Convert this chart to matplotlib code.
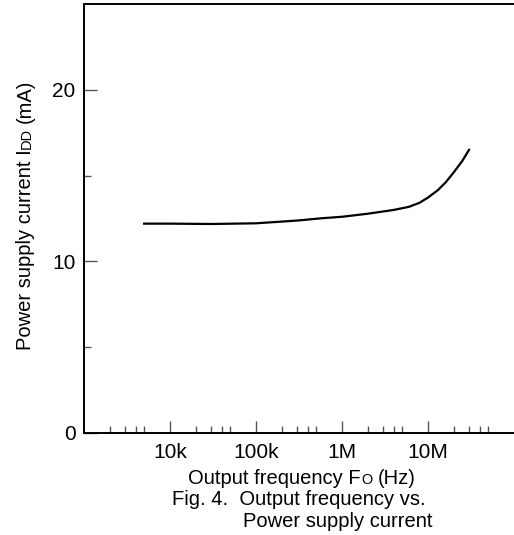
import numpy as np
import matplotlib
matplotlib.use("Agg")
import matplotlib.pyplot as plt
from matplotlib.ticker import FixedLocator, NullFormatter
from matplotlib.transforms import offset_copy

plt.rcParams['font.family'] = ['Liberation Sans', 'DejaVu Sans']

# values
freq_hz = [5e3, 1e4, 3e4, 1e5, 3e5, 6e5, 1e6, 2e6, 4e6, 6e6, 8e6, 1e7, 1.3e7, 1.6e7, 2e7, 2.5e7, 3e7]
idd_ma = [12.2, 12.2, 12.18, 12.22, 12.38, 12.52, 12.6, 12.78, 13.0, 13.18, 13.42, 13.72, 14.15, 14.6, 15.2, 15.85, 16.5]

x_ticks = [1e4, 1e5, 1e6, 1e7]
x_ticklabels = ["10k", "100k", "1M", "10M"]
y_ticks = [0, 10, 20]
y_minor = [5, 15]

fig = plt.figure(figsize=(5.14, 5.35), dpi=100)
ax = fig.add_axes([84 / 514, 1 - 433 / 535, 1 - 84 / 514, (433 - 4) / 535])

ax.plot(freq_hz, idd_ma, color="black", lw=1.6)

ax.set_xscale("log")
ax.set_xlim(1e3, 1e8)
ax.set_ylim(0, 25)

ax.set_xticks(x_ticks)
ax.set_xticklabels(x_ticklabels)
minor = [m * 10.0 ** d for d in range(3, 8) for m in (2, 3, 4, 5)]
ax.xaxis.set_minor_locator(FixedLocator(minor))
ax.xaxis.set_minor_formatter(NullFormatter())
ax.set_yticks(y_ticks)
ax.yaxis.set_minor_locator(FixedLocator(y_minor))

ax.tick_params(which="major", direction="in", length=9, width=1, labelsize=15,
               pad=6, color="#555555")
ax.tick_params(which="minor", direction="in", length=5, width=1, color="#555555")
ax.tick_params(axis="x", which="major", pad=7)
ax.tick_params(top=False, right=False, which="both")

ax.spines["right"].set_visible(False)
for s in ("left", "top", "bottom"):
    ax.spines[s].set_linewidth(1.4)


def draw_parts(x, y, parts, rotation=0):
    # draw pieces of text one after another so part of it can be smaller
    renderer = fig.canvas.get_renderer()
    shift = 0.0
    for s, size, gap in parts:
        shift += gap
        if rotation:
            tr = offset_copy(fig.transFigure, fig=fig, x=0, y=shift, units="dots")
        else:
            tr = offset_copy(fig.transFigure, fig=fig, x=shift, y=0, units="dots")
        t = fig.text(x, y, s, fontsize=size, rotation=rotation, rotation_mode="anchor",
                     ha="left", va="baseline", transform=tr)
        bb = t.get_window_extent(renderer)
        shift += bb.height if rotation else bb.width


fs = 14.5
draw_parts(31 / 514, 1 - 350 / 535,
           [("Power supply current I", fs, 0), ("DD", fs * 0.72, 0.5), ("(mA)", fs, 5)],
           rotation=90)
draw_parts(188 / 514, 1 - 484 / 535,
           [("Output frequency F", fs, 0), ("O", fs * 0.72, 0.5), ("(Hz)", fs, 5)])
fig.text(172 / 514, 1 - 505 / 535, "Fig. 4.  Output frequency vs.", fontsize=fs,
         ha="left", va="baseline")
fig.text(243 / 514, 1 - 527 / 535, "Power supply current", fontsize=fs,
         ha="left", va="baseline")

fig.savefig("out.png", dpi=100)
